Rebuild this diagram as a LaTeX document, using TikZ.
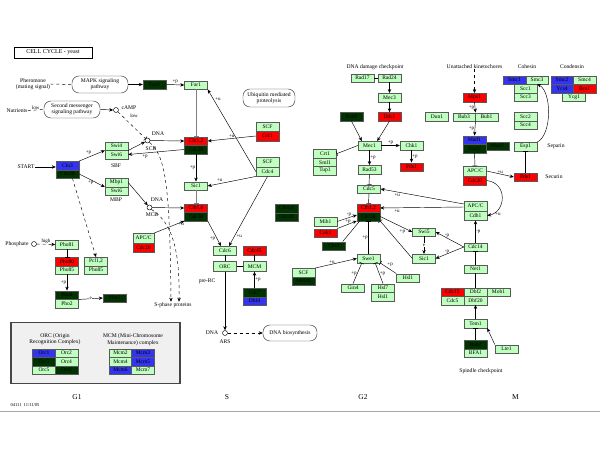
\documentclass[tikz,border=0pt]{standalone}
\usepackage{fontspec}
\setmainfont{Liberation Serif}
\usetikzlibrary{arrows.meta,calc}
\definecolor{klg}{RGB}{191,255,191}
\definecolor{kred}{RGB}{255,0,0}
\definecolor{kdark}{RGB}{0,51,0}
\definecolor{kblue}{RGB}{51,51,240}
\newcommand\kgf{\fontsize{5.5}{6}\selectfont}
\newcommand\klf{\fontsize{5}{5.5}\selectfont}
\newcommand\ktf{\fontsize{5.6}{6.3}\selectfont}
\begin{document}
\begin{tikzpicture}[x=1pt,y=-1pt,line width=0.45pt,
 gbox/.style={draw=black!65,line width=0.4pt,fill=klg,minimum width=23pt,minimum height=8.5pt,inner sep=0pt,font=\kgf,text=black},
 rbox/.style={gbox,fill=kred},
 dbox/.style={gbox,fill=kdark},
 bbox/.style={gbox,fill=kblue},
 pbox/.style={draw=black!80,rounded corners=7pt,minimum width=56pt,minimum height=17pt,inner sep=0pt,align=center,font=\ktf,fill=white},
 txt/.style={inner sep=0pt,font=\ktf,align=center},
 lab/.style={inner sep=0.6pt,font=\klf},
 ar/.style={-{Stealth[length=4pt,width=3.4pt]}},
 inh/.style={-{Bar[width=5pt]}},
 dnac/.style={circle,draw,minimum size=5pt,inner sep=0pt},
 phase/.style={inner sep=0pt,font=\fontsize{7.5}{8}\selectfont}]
\useasboundingbox (0,0) rectangle (600,450);
\fill[white] (0,0) rectangle (600,450);

% ---------- title ----------
\node[draw,line width=0.7pt,minimum width=78pt,minimum height=11pt,inner sep=0pt,font=\fontsize{6}{6.5}\selectfont] (title) at (53,52.5) {CELL CYCLE - yeast};

% ---------- G1 ----------
\node[txt] (pher) at (33,84) {Pheromone\\(mating signal)};
\node[pbox] (mapk) at (100,84.5) {MAPK signaling\\pathway};
\node[dbox] (fus3) at (154.5,84.5) {Fus3};
\node[gbox] (far1) at (196,85) {Far1};
\node[txt] (nutr) at (17,110.5) {Nutrients};
\node[pbox] (secm) at (72,109.5) {Second messenger\\signaling pathway};
\node[dnac] (camp) at (116,110) {};
\node[txt] (campL) at (129,107.5) {cAMP};
\node[lab] (lowC) at (134,115.5) {low};
\node[pbox,minimum width=52pt,minimum height=18pt] (ubq) at (269,98) {Ubiquitin mediated\\proteolysis};

\node[rbox] (cln12) at (196,141) {Cln1,2};
\node[dbox] (cdc28a) at (196,149.5) {Cdc28};
\node[gbox,minimum height=9.5pt] (scf1) at (267.5,126.5) {SCF};
\node[rbox,minimum height=9.5pt] (grr1) at (267.5,136) {Grr1};
\node[gbox,minimum height=9.5pt] (scf2) at (267.5,162) {SCF};
\node[gbox,minimum height=9.5pt] (cdc4) at (267.5,171.5) {Cdc4};

\node[gbox] (swi4) at (116.5,146) {Swi4};
\node[gbox] (swi6a) at (116.5,154.5) {Swi6};
\node[txt] (sbf) at (116,166) {SBF};
\node[bbox] (cln3) at (67.5,165.5) {Cln3};
\node[dbox] (cdc28c) at (67.5,174) {Cdc28};
\node[txt] (start) at (26,167) {START};
\node[dnac] (dnaS) at (147.5,140.5) {};
\node[txt] (dnaSL) at (158,134) {DNA};
\node[txt] (scbL) at (151,148.5) {SCB};
\node[gbox] (sic1a) at (196,186) {Sic1};
\node[gbox] (mbp1) at (116.5,182.5) {Mbp1};
\node[gbox] (swi6b) at (116.5,191) {Swi6};
\node[txt] (mbpL) at (116,199.5) {MBP};
\node[dnac] (dnaM) at (149.5,207.5) {};
\node[txt] (dnaML) at (157,200) {DNA};
\node[txt] (mcbL) at (152,214.5) {MCB};
\node[rbox] (clb56) at (196,208) {Clb5,6};
\node[dbox] (cdc28b) at (196,216.5) {Cdc28};
\node[dbox] (clb34) at (286.5,208.5) {Clb3,4};
\node[dbox] (cdc28d) at (286.5,217) {Cdc28};
\node[gbox,minimum width=21pt,minimum height=9.5pt] (apc1) at (143.5,238) {APC/C};
\node[rbox,minimum width=21pt,minimum height=9.5pt] (cdc20a) at (143.5,247.5) {Cdc20};

\node[gbox] (cdc6) at (225,250.5) {Cdc6};
\node[rbox] (cdc45) at (254.5,250.5) {Cdc45};
\node[gbox,minimum height=10pt] (orc) at (225,266.5) {ORC};
\node[gbox,minimum height=10pt] (mcm) at (254.5,266.5) {MCM};
\node[dbox] (cdc7) at (254.5,292.5) {Cdc7};
\node[bbox] (dbf4) at (254.5,301) {Dbf4};
\node[txt] (preRC) at (207,281.7) {pre-RC};
\node[txt] (sph) at (173,305.5) {S-phase proteins};
\node[dnac] (dnaA) at (225,333) {};
\node[txt] (dnaAL) at (212,333) {DNA};
\node[txt] (arsL) at (225,342) {ARS};
\node[pbox,minimum width=54pt,minimum height=16pt] (dnab) at (290,333) {DNA biosynthesis};

\node[gbox] (pho81) at (67,244.5) {Pho81};
\node[txt] (phosL) at (17,244) {Phosphate};
\node[dnac] (phosC) at (34,244) {};
\node[rbox] (pho80) at (67,261.5) {Pho80};
\node[gbox] (pho85a) at (67,270) {Pho85};
\node[gbox] (pcl12) at (96,261.5) {Pcl1,2};
\node[gbox] (pho85b) at (96,270) {Pho85};
\node[dbox] (pho4) at (67,295) {Pho4};
\node[gbox] (pho2) at (67,303.5) {Pho2};
\node[dbox] (pho5) at (114.5,298) {Pho5};

% ---------- G2 ----------
\node[txt] (ddcL) at (375,67) {DNA damage checkpoint};
\node[gbox] (rad17) at (362.5,78) {Rad17};
\node[gbox] (rad24) at (389.5,78) {Rad24};
\node[gbox] (mec3) at (389.5,97.5) {Mec3};
\node[dbox] (rad9) at (351.5,116.7) {Rad9};
\node[rbox] (ddc1) at (389.5,116.7) {Ddc1};
\node[gbox] (dun1) at (437,116.7) {Dun1};
\node[gbox] (mec1) at (369.5,145.5) {Mec1};
\node[gbox] (chk1) at (411.5,145.5) {Chk1};
\node[gbox] (crt1) at (325,153.7) {Crt1};
\node[gbox] (sml1) at (325,162.2) {Sml1};
\node[gbox] (tup1) at (325,170.7) {Tup1};
\node[gbox] (rad53) at (369.5,169.5) {Rad53};
\node[rbox] (pds1a) at (411.5,167) {Pds1};
\node[gbox] (cdc5a) at (369,189) {Cdc5};
\node[rbox] (clb12) at (368.5,208) {Clb1,2};
\node[dbox] (cdc28e) at (368.5,216.5) {Cdc28};
\node[gbox] (mih1) at (325.5,221.5) {Mih1};
\node[rbox] (cak1) at (325.5,233) {Cak1};
\node[dbox] (cks1) at (334,246) {Cks1};
\node[gbox] (swe1) at (368.5,258.5) {Swe1};
\node[gbox] (swi5) at (424,232) {Swi5};
\node[gbox] (sic1b) at (424,258.5) {Sic1};
\node[gbox] (hsl1a) at (408,278) {Hsl1};
\node[gbox] (gin4) at (353,288) {Gin4};
\node[gbox] (hsl7) at (383,288) {Hsl7};
\node[gbox] (hsl1b) at (383,296.5) {Hsl1};
\node[gbox] (scf3) at (303.5,272.5) {SCF};
\node[dbox] (met30) at (303.5,281) {Met30};

% ---------- M ----------
\node[txt] (ukL) at (474.5,67) {Unattached kinetochores};
\node[rbox] (mps1) at (474.5,97.5) {Mps1};
\node[gbox,minimum width=22.5pt] (bub3) at (464,117) {Bub3};
\node[gbox,minimum width=22.5pt] (bub1) at (486.5,117) {Bub1};
\node[bbox] (mad1) at (474.5,140) {Mad1};
\node[dbox] (mad2) at (474.5,148.5) {Mad2};
\node[dbox] (mad3) at (497.5,146) {Mad3};
\node[gbox,minimum height=9.5pt] (apc2) at (475,171) {APC/C};
\node[rbox,minimum height=9.5pt] (cdc20b) at (475,180.5) {Cdc20};
\node[rbox] (pds1b) at (525.5,177) {Pds1};
\node[txt] (securL) at (554,177) {Securin};
\node[gbox] (esp1) at (525.5,146.5) {Esp1};
\node[txt] (separL) at (556,146.5) {Separin};
\node[gbox] (scc2) at (525.5,116.5) {Scc2};
\node[gbox] (scc4) at (525.5,125) {Scc4};
\node[bbox,minimum width=22.5pt] (smc1) at (514.5,80) {Smc1};
\node[gbox,minimum width=22.5pt] (smc3) at (537,80) {Smc3};
\node[gbox] (scc1) at (525.5,88.5) {Scc1};
\node[gbox] (scc3) at (525.5,97) {Scc3};
\node[txt] (cohL) at (527,67) {Cohesin};
\node[txt] (condL) at (572,67) {Condensin};
\node[bbox,minimum width=22.5pt] (smc2) at (562,80) {Smc2};
\node[gbox,minimum width=22.5pt] (smc4) at (584.5,80) {Smc4};
\node[bbox,minimum width=22.5pt] (ycs4) at (562,88.5) {Ycs4};
\node[rbox,minimum width=22.5pt] (brn1) at (584.5,88.5) {Brn1};
\node[gbox] (ycg1) at (574,97) {Ycg1};
\node[gbox,minimum height=9.5pt] (apc3) at (475.5,206) {APC/C};
\node[gbox,minimum height=9.5pt] (cdh1) at (475.5,215.5) {Cdh1};
\node[gbox] (cdc14) at (475.5,247) {Cdc14};
\node[gbox] (net1) at (475.5,269) {Net1};
\node[rbox] (cdc15) at (452.5,292) {Cdc15};
\node[gbox] (cdc5b) at (452.5,300.5) {Cdc5};
\node[gbox] (dbf2) at (475.5,292) {Dbf2};
\node[gbox] (mob1) at (498.5,292) {Mob1};
\node[gbox] (dbf20) at (475.5,300.5) {Dbf20};
\node[gbox] (tem1) at (475.5,323.7) {Tem1};
\node[dbox] (bub2) at (475.5,344.5) {Bub2};
\node[gbox] (bfa1) at (475.5,353) {BFA1};
\node[gbox] (lte1) at (506.5,349) {Lte1};
\node[txt] (spcL) at (481,370.7) {Spindle checkpoint};

% ---------- legend ----------
\node[draw=gray!55!black,line width=1.3pt,fill=gray!12,minimum width=169pt,minimum height=60.6pt,inner sep=0pt] (legend) at (95.35,353) {};
\node[txt] (orcL) at (55,339.5) {ORC (Origin\\Recognition Complex)};
\node[txt] (mcmL) at (133,339.5) {MCM (Mini-Chromosome\\Maintenance) complex};
\begin{scope}[every node/.append style={minimum width=22.5pt}]
\node[bbox] (orc1) at (44,353) {Orc1};
\node[gbox] (orc2) at (66.5,353) {Orc2};
\node[dbox] (orc3) at (44,361.5) {Orc3};
\node[gbox] (orc4) at (66.5,361.5) {Orc4};
\node[gbox] (orc5) at (44,370) {Orc5};
\node[dbox] (orc6) at (66.5,370) {Orc6};
\node[gbox] (mcm2) at (120.5,353) {Mcm2};
\node[bbox] (mcm3) at (143,353) {Mcm3};
\node[gbox] (mcm4) at (120.5,361.5) {Mcm4};
\node[bbox] (mcm5) at (143,361.5) {Mcm5};
\node[bbox] (mcm6) at (120.5,370) {Mcm6};
\node[gbox] (mcm7) at (143,370) {Mcm7};
\end{scope}

% ---------- phases ----------
\node[phase] (g1) at (77,397) {G1};
\node[phase] (sph2) at (227,397) {S};
\node[phase] (g2) at (363,397) {G2};
\node[phase] (mph) at (515.5,397) {M};
\node[inner sep=0pt,font=\fontsize{4.5}{4.5}\selectfont] (date) at (25,405) {04111\ \ 11/11/05};
\draw[gray!70,line width=1.5pt] (0,411.7) -- (600,411.7);

% ================= edges =================
\draw[dashed] (pher.east) -- (mapk.west);
\draw[ar] (mapk.east) -- (fus3.west);
\draw[ar] (fus3.east) -- node[lab,above]{+p} (far1.west);
\draw[dashed] (nutr.east) -- node[lab,above]{low} (secm.west);
\draw[ar] (secm.east) -- (camp.west);
\draw[dashed,inh] (camp) -- (dnaS);
\draw[inh,gray] (far1.south) -- (cln12.north);
\draw[ar] (grr1.west) -- node[lab,above]{+u} (cln12.east);
\draw[ar] (cdc4.west) -- node[lab,pos=0.88,right=1pt]{+u} (far1.south east);
\draw[ar] (cdc4.south west) -- node[lab,pos=0.75,above=1pt]{+u} (sic1a.east);
\draw[ar] (cdc4.south) -- node[lab,pos=0.85,right=1pt]{+u} ($(cdc6.north)+(4,0)$);
\draw[ar] (cdc28a.south) -- node[lab,left]{+p} (sic1a.north);
\draw[inh,gray] (sic1a.south) -- (clb56.north);
\draw[ar] (cdc28b.south east) -- node[lab,pos=0.7,left=1pt]{+p} ($(cdc6.north)+(-4,0)$);
\draw[ar] (dnaS) -- (cln12.west);
\draw[ar] (dnaM) -- (clb56.west);
\draw[ar] (swi4.south east) -- (dnaS);
\draw[ar] (mbp1.east) -- (dnaM);
\draw[ar] (cdc28a.west) -- node[lab,pos=0.7,below=1pt]{+p} (swi6a.east);
\draw[ar] (cln3.north east) -- node[lab,pos=0.5,above left]{+p} (swi4.south west);
\draw[ar] (cdc28c.east) -- node[lab,pos=0.45,below]{+p} (mbp1.south west);
\draw[ar] (start.east) -- (start.east -| cln3.west);
\draw[ar,dashed] ($(cdc28c.south)+(5,0)$) -- (pcl12.north);
\draw[ar,dashed] (dnaS.south east) .. controls (166,155) and (170,190) .. ($(sph.north)+(-2,-1)$);
\draw[ar,dashed] (dnaM.south east) .. controls (172,222) and (180,250) .. ($(sph.north)+(6,-1)$);
\draw[ar] (apc1.north east) -- node[lab,pos=0.75,right=1pt]{+u} (cdc28b.south west);
\draw (cdc6) -- (orc);
\draw (orc) -- (mcm);
\draw (cdc45) -- (mcm);
\draw[ar] (cdc7.north) -- node[lab,right]{+p} (mcm.south);
\draw[ar] (orc.south) -- (dnaA);
\draw[ar,dashed] (dnaA) -- (dnab.west);
\draw[ar,dashed] (phosC) -- node[lab,above]{high} (pho81.west);
\draw[inh] (pho81.south) -- (pho80.north);
\draw[ar] (pho85a.south) -- node[lab,left]{+p} (pho4.north);
\draw[ar] (pho4.south east) -- node[lab,fill=white]{e} (pho5.west);

% G2 edges
\draw (rad17.east) -- (rad24.west);
\draw[ar] (rad24.south) -- (mec3.north);
\draw[ar] (mec3.south) -- (ddc1.north);
\draw[ar] (rad9.south) -- ($(mec1.north west)+(4,0)$);
\draw[ar] (ddc1.south) -- ($(mec1.north east)+(-4,0)$);
\draw[inh] (mec1.west) -- (crt1.east);
\draw[ar] (mec1.east) -- node[lab,above]{+p} (chk1.west);
\draw[ar] (chk1.south) -- node[lab,right]{+p} (pds1a.north);
\draw[ar] (mec1.south) -- node[lab,right]{+p} (rad53.north);
\draw[inh] (rad53.south) -- (cdc5a.north);
\draw[inh] (cdc5a.south) -- (clb12.north);
\draw[ar] ($(apc3.west)+(0,-2)$) -- node[lab,pos=0.8,below=1pt]{+u} (cdc5a.east);
\draw[ar] ($(apc3.west)+(0,1)$) -- node[lab,pos=0.8,below=1pt]{+u} (clb12.east);
\draw[ar] (mih1.east) -- node[lab,pos=0.6,above]{-p} ($(cdc28e.west)+(0,-1.5)$);
\draw[ar] (cak1.north east) -- node[lab,pos=0.55,above]{+p} ($(cdc28e.south west)$);
\draw ($(cks1.north east)+(-3,0)$) -- ($(cdc28e.south west)+(3,0)$);
\draw[inh] (swe1.north) -- node[lab,left]{+p} (cdc28e.south);
\draw[ar] (cdc28e.east) -- node[lab,pos=0.8,below left]{+p} (swi5.west);
\draw[inh] (sic1b.west) -- (cdc28e.south east);
\draw[ar] (swi5.south) -- node[lab,fill=white]{e} (sic1b.north);
\draw[ar] (cdc14.west) -- node[lab,pos=0.6,above]{-p} (swi5.east);
\draw[ar] (cdc14.west) -- node[lab,pos=0.6,above]{-p} (sic1b.east);
\draw[inh] (gin4.north) -- node[lab,pos=0.5,left]{+p} ($(swe1.south west)+(5,0)$);
\draw[inh] (hsl7.north) -- node[lab,pos=0.5,right]{+p} ($(swe1.south east)+(-5,0)$);
\draw[inh] (hsl1a.north west) -- node[lab,pos=0.6,above right]{+p} (swe1.south east);
\draw[ar] (scf3.north east) -- node[lab,pos=0.4,above]{+u} (swe1.west);

% M edges
\draw[ar,dashed] (ukL.south) -- (mps1.north);
\draw[ar] (mps1.south) -- node[lab,left]{+p} (bub3.north east);
\draw[ar] (bub3.south east) -- node[lab,left]{+p} (mad1.north);
\draw[inh] (mad2.south) -- (apc2.north);
\draw[ar] (apc2.east) -- node[lab,above]{+u} (pds1b.west);
\draw[inh] (pds1b.north) -- (esp1.south);
\draw[ar] (esp1.north east) .. controls (552,135) and (552,92) .. (scc1.north east);
\draw[ar] (cdc20b.east) .. controls (508,183) and (506,212) .. node[lab,pos=0.92,right=3pt]{+u} (cdh1.east);
\draw[ar] (cdc14.north) -- node[lab,right]{-p} (cdh1.south);
\draw[inh] (net1.north) -- (cdc14.south);
\draw (dbf2.north) -- (net1.south);
\draw[ar] (tem1.north) -- (dbf20.south);
\draw[inh] (bub2.north) -- (tem1.south);
\draw[ar] (lte1.north west) -- (tem1.south east);
\end{tikzpicture}
\end{document}
